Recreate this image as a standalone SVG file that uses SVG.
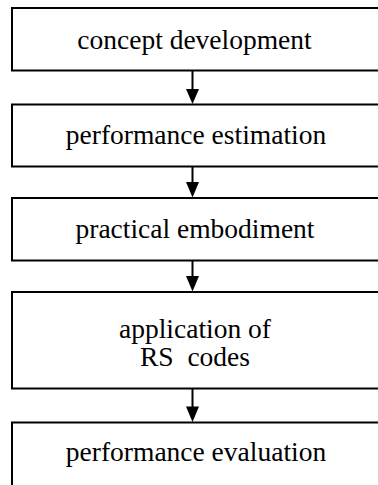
<svg xmlns="http://www.w3.org/2000/svg" width="378" height="485" viewBox="0 0 378 485">
<style>
.box{fill:#fff;stroke:#000;stroke-width:2}
.lbl{font-family:"Liberation Serif","Times New Roman",serif;font-size:27.5px;fill:#000;text-anchor:middle;white-space:pre}
.conn{stroke:#000;stroke-width:2;fill:none}
.head{fill:#000}
</style>
<rect width="378" height="485" fill="#fff"/>
<g id="n1"><rect class="box" x="12" y="8" width="370" height="62.5"/><text class="lbl" x="194.5" y="49">concept development</text></g>
<g id="n2"><rect class="box" x="12" y="104.5" width="370" height="62"/><text class="lbl" x="196" y="144">performance estimation</text></g>
<g id="n3"><rect class="box" x="12" y="198" width="370" height="62.5"/><text class="lbl" x="195" y="238">practical embodiment</text></g>
<g id="n4"><rect class="box" x="12" y="292" width="370" height="96.5"/><text class="lbl" x="195" y="338">application of</text><text class="lbl" x="195" y="366" xml:space="preserve">RS  codes</text></g>
<g id="n5"><rect class="box" x="12" y="422.5" width="370" height="70"/><text class="lbl" x="196" y="461">performance evaluation</text></g>
<g id="connectors">
<line class="conn" x1="192.5" y1="70.5" x2="192.5" y2="90"/>
<path class="head" d="M186,89 L199,89 L192.5,104 Z"/>
<line class="conn" x1="192.5" y1="166.5" x2="192.5" y2="183"/>
<path class="head" d="M186,182 L199,182 L192.5,197.5 Z"/>
<line class="conn" x1="192.5" y1="260.5" x2="192.5" y2="277"/>
<path class="head" d="M186,276 L199,276 L192.5,291.5 Z"/>
<line class="conn" x1="192.5" y1="388.5" x2="192.5" y2="407"/>
<path class="head" d="M186,406.5 L199,406.5 L192.5,422 Z"/>
</g>
</svg>
